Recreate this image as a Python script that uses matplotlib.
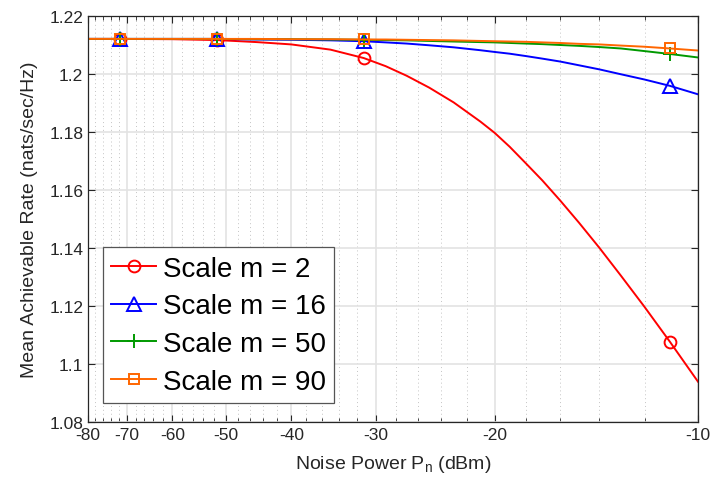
import matplotlib
matplotlib.use("Agg")
import matplotlib.pyplot as plt
import numpy as np
from matplotlib.ticker import FixedLocator, NullLocator


PN_DBM = [-80, -71.7, -60, -51.5, -45, -40, -35, -31.25, -29, -27, -25, -23,
          -21, -20, -19, -18, -17, -16, -15, -14, -13, -12, -11, -10]
MARK_IDX = [1, 3, 7, 22]

RATE_M2 = [1.2121, 1.2121, 1.2120, 1.2117, 1.2110, 1.2102, 1.2084, 1.2055,
           1.2027, 1.1994, 1.1953, 1.1902, 1.1836, 1.1797, 1.1749, 1.1693,
           1.1633, 1.1564, 1.1487, 1.1401, 1.1304, 1.1197, 1.1076, 1.0939]
RATE_M16 = [1.2121, 1.2121, 1.2121, 1.2121, 1.2119, 1.2118, 1.2116, 1.2113,
            1.2109, 1.2105, 1.2099, 1.2092, 1.2082, 1.2076, 1.2070, 1.2062,
            1.2053, 1.2043, 1.2030, 1.2016, 1.1999, 1.1981, 1.1959, 1.1930]
RATE_M50 = [1.2121, 1.2121, 1.2121, 1.2121, 1.2120, 1.2120, 1.2119, 1.2118,
            1.2117, 1.2116, 1.2114, 1.2112, 1.2110, 1.2109, 1.2107, 1.2105,
            1.2103, 1.2100, 1.2097, 1.2093, 1.2088, 1.2079, 1.2069, 1.2057]
RATE_M90 = [1.2121, 1.2121, 1.2121, 1.2121, 1.2121, 1.2120, 1.2120, 1.2119,
            1.2119, 1.2118, 1.2117, 1.2116, 1.2114, 1.2113, 1.2112, 1.2111,
            1.2109, 1.2107, 1.2104, 1.2102, 1.2098, 1.2094, 1.2088, 1.2081]

LABELS = ["Scale m = 2", "Scale m = 16", "Scale m = 50", "Scale m = 90"]
XTICKS = [-80, -70, -60, -50, -40, -30, -20, -10]
XTICK_LABELS = ["-80", "-70", "-60", "-50", "-40", "-30", "-20", "-10"]
YTICKS = [1.08, 1.10, 1.12, 1.14, 1.16, 1.18, 1.20, 1.22]
YTICK_LABELS = ["1.08", "1.1", "1.12", "1.14", "1.16", "1.18", "1.2", "1.22"]

STYLES = [
    dict(color="#ff0000", marker="o", ms=8.5),
    dict(color="#0000ff", marker="^", ms=10),
    dict(color="#009900", marker="+", ms=10),
    dict(color="#ff6600", marker="s", ms=7.5),
]


def fwd(x):
    # log of |P| with the axis running from -80 to -10
    x = np.asarray(x, dtype=float)
    return -np.log(np.clip(-x, 1e-12, None))


def inv(y):
    return -np.exp(-np.asarray(y, dtype=float))


def main():
    plt.rcParams.update({
        "font.family": ["Liberation Sans", "DejaVu Sans"],
        "mathtext.fontset": "custom",
        "mathtext.rm": "Liberation Sans",
        "axes.unicode_minus": False,
    })

    fig = plt.figure(figsize=(7.13, 4.89), dpi=100)
    ax = fig.add_axes([88 / 713, 66 / 489, 610 / 713, 406 / 489])
    ax.set_xscale("function", functions=(fwd, inv))

    for ys, lab, st in zip([RATE_M2, RATE_M16, RATE_M50, RATE_M90], LABELS, STYLES):
        ax.plot(PN_DBM, ys, color=st["color"], lw=1.4, marker=st["marker"],
                ms=st["ms"], mfc="none", mec=st["color"], mew=1.4,
                markevery=MARK_IDX, label=lab)

    ax.set_xlim(-80, -10)
    ax.set_ylim(1.08, 1.22)
    ax.xaxis.set_major_locator(FixedLocator(XTICKS))
    ax.set_xticklabels(XTICK_LABELS)
    minors = [v for v in range(-78, -10, 2) if v % 10 != 0]
    ax.xaxis.set_minor_locator(FixedLocator(minors))
    ax.set_yticks(YTICKS)
    ax.set_yticklabels(YTICK_LABELS)
    ax.yaxis.set_minor_locator(NullLocator())

    ax.tick_params(which="both", direction="in", top=True, right=True,
                   labelsize=12.5, color="#262626", labelcolor="#262626")
    ax.tick_params(which="major", length=5, width=0.8)
    ax.tick_params(which="minor", length=3, width=0.6)
    for s in ax.spines.values():
        s.set_color("#262626")
        s.set_linewidth(0.9)

    ax.grid(which="major", axis="both", color="#e3e3e3", lw=1.2, ls="-")
    ax.grid(which="minor", axis="x", color="#c4c4c4", lw=0.7, ls=(0, (1, 3)))
    ax.set_axisbelow(True)

    ax.set_xlabel(r"Noise Power $\mathregular{P_n}$ (dBm)", fontsize=14,
                  color="#262626", labelpad=8)
    ax.set_ylabel("Mean Achievable Rate (nats/sec/Hz)", fontsize=14,
                  color="#262626", labelpad=8)

    leg = ax.legend(loc="lower left", bbox_to_anchor=(0.0246, 0.0468),
                    borderaxespad=0, fontsize=20, fancybox=False,
                    handlelength=1.6, handletextpad=0.25, labelspacing=0.42,
                    borderpad=0.3, framealpha=1)
    leg.get_frame().set_edgecolor("#555555")
    leg.get_frame().set_linewidth(0.9)

    fig.savefig("out.png", dpi=100)
    plt.close(fig)


if __name__ == "__main__":
    main()
